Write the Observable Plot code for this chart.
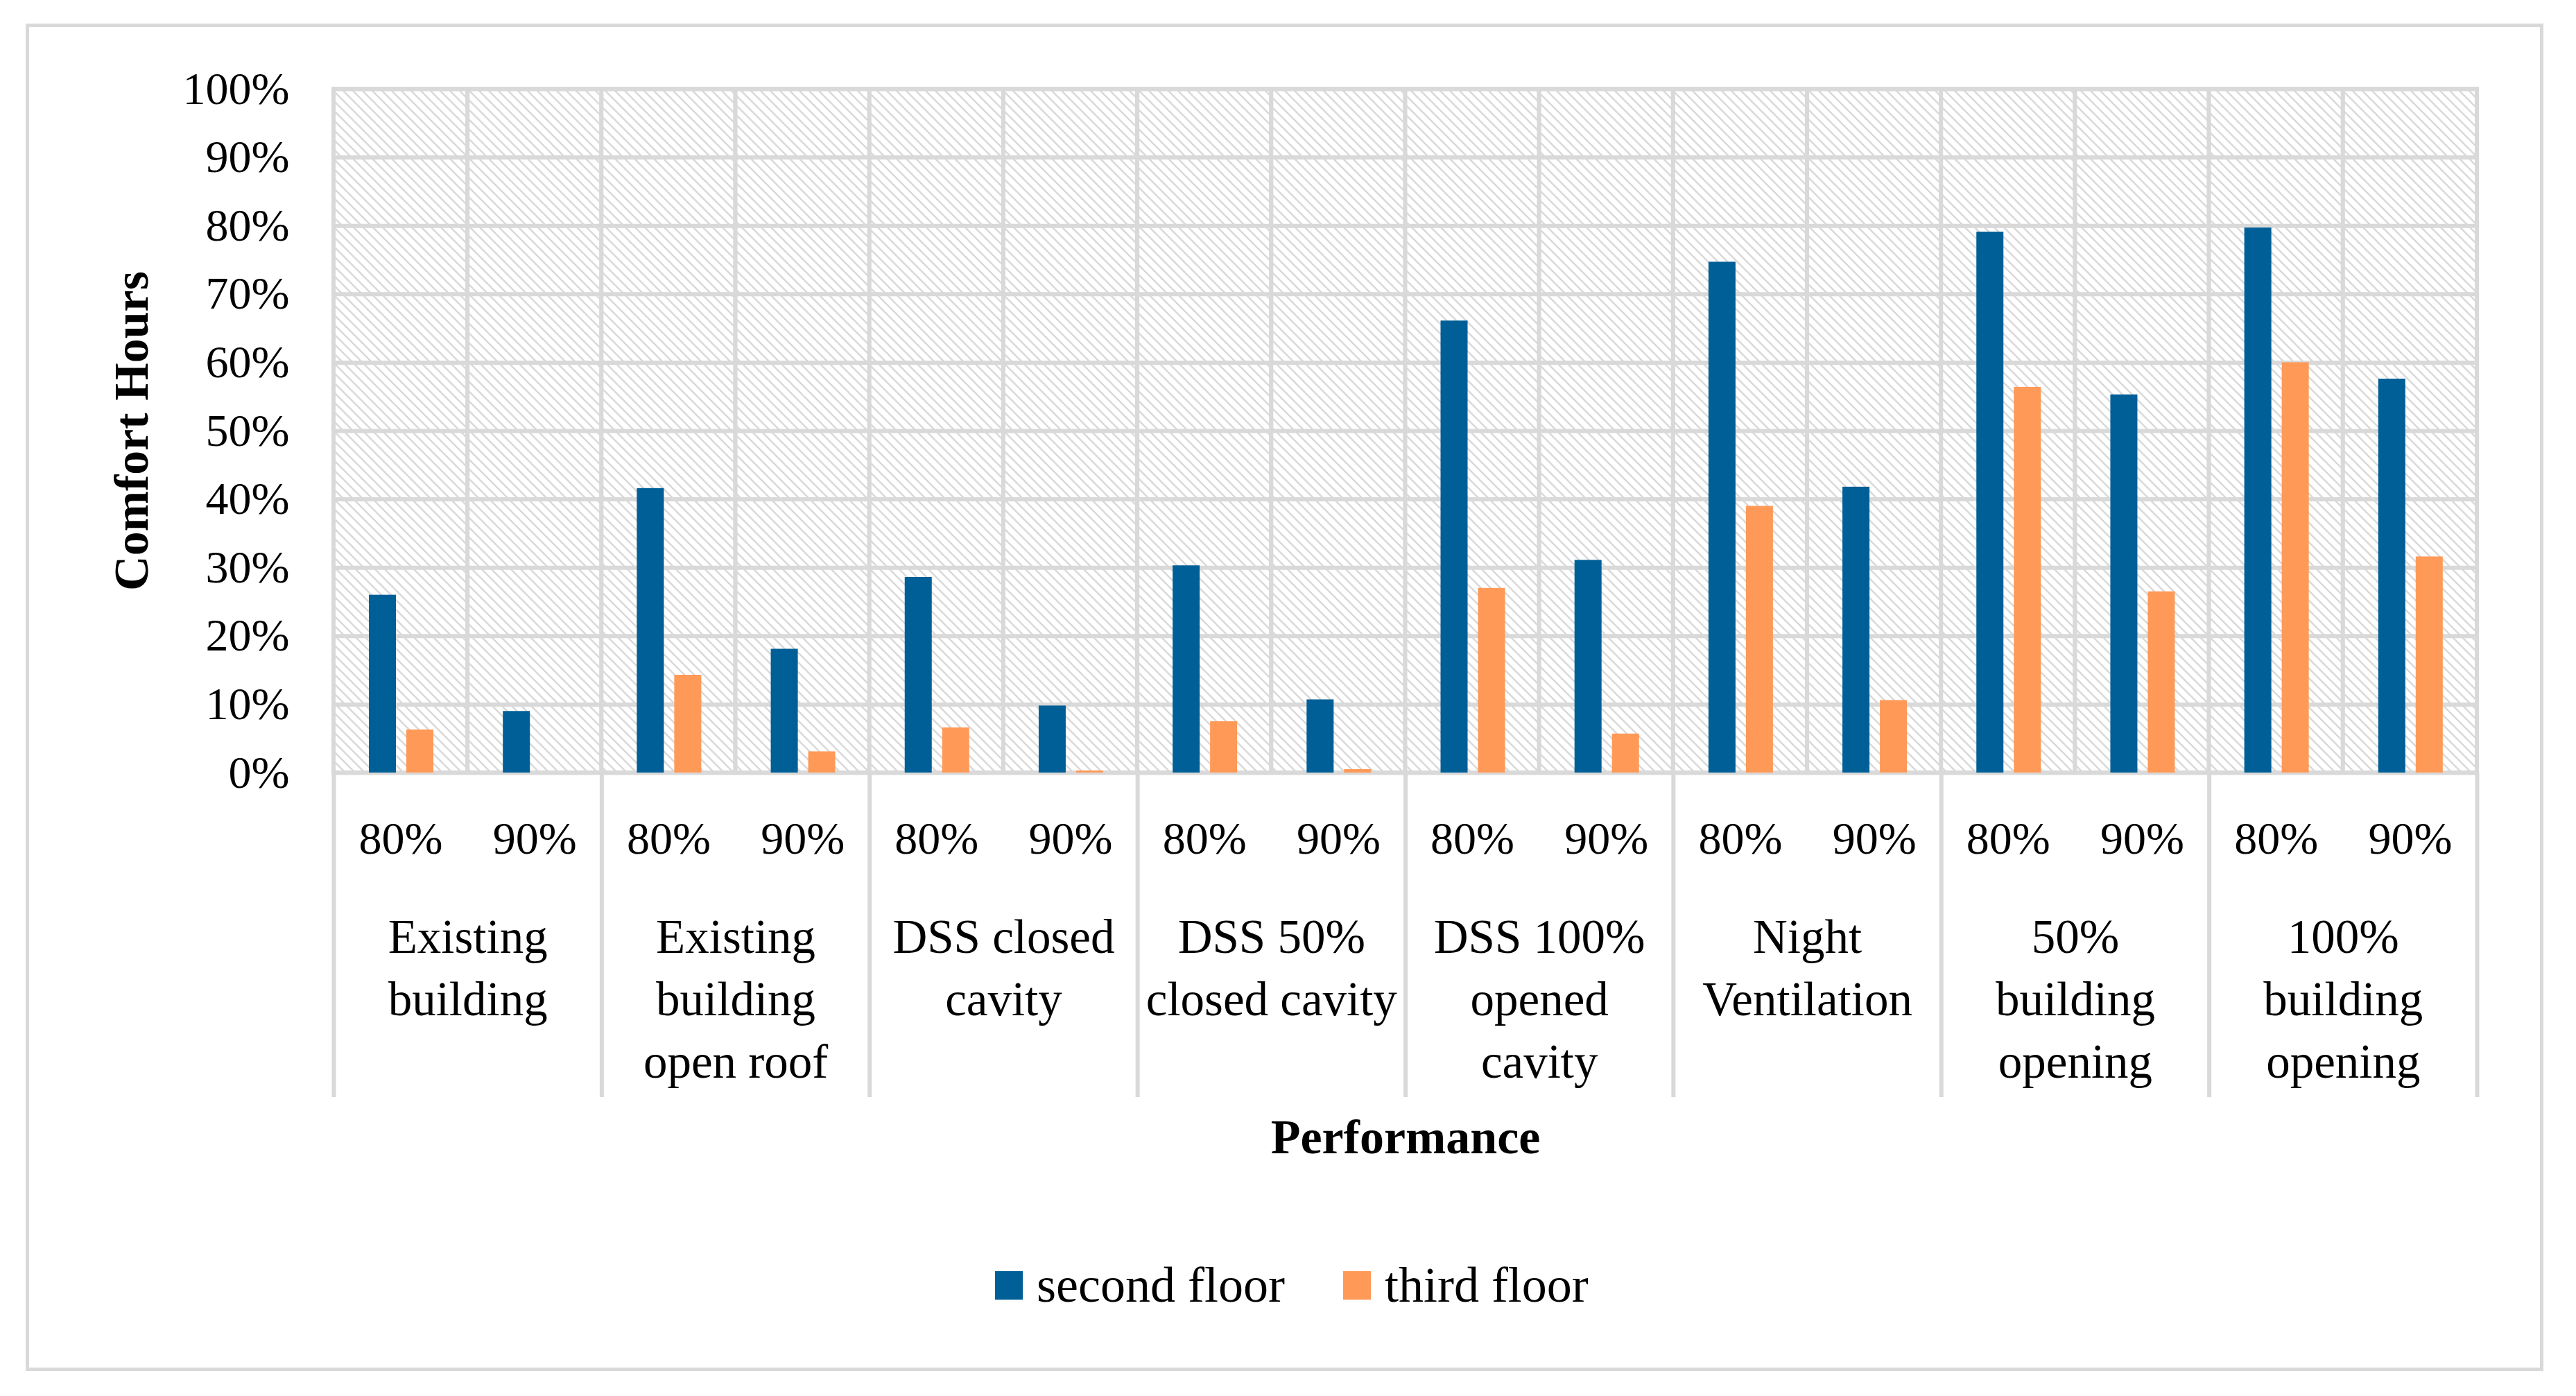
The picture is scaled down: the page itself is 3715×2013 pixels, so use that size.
<!DOCTYPE html>
<html><head><meta charset="utf-8">
<script src="https://cdn.jsdelivr.net/npm/d3@7"></script>
<script src="https://cdn.jsdelivr.net/npm/@observablehq/plot@0.6"></script>
<style>
html,body{margin:0;padding:0;background:#fff;}
#wrap{position:relative;width:3715px;height:2013px;overflow:hidden;font-family:"Liberation Serif",serif;color:#000;}
#frame{position:absolute;left:37px;top:34px;width:3631px;height:1943px;border:5px solid #d9d9d9;box-sizing:border-box;}
#chart{position:absolute;left:0;top:0;}
#legend{position:absolute;left:1435px;top:1812px;display:flex;align-items:center;font-size:72px;line-height:1.15;}
.item{display:flex;align-items:center;margin-right:84px;}
.sw{width:40px;height:41px;margin-right:20px;}
</style></head><body>
<div id="wrap"><div id="frame"></div><div id="chart"></div><div id="legend"></div></div>
<script>
const categories = [
  "Existing\nbuilding",
  "Existing\nbuilding\nopen roof",
  "DSS closed\ncavity",
  "DSS 50%\nclosed cavity",
  "DSS 100%\nopened\ncavity",
  "Night\nVentilation",
  "50%\nbuilding\nopening",
  "100%\nbuilding\nopening"
];
const levels = ["80%", "90%"];
const series = ["second floor", "third floor"];
const secondFloor = [26.0, 9.0, 41.6, 18.1, 28.6, 9.8, 30.3, 10.7, 66.1, 31.1, 74.7, 41.8, 79.1, 55.3, 79.7, 57.6];
const thirdFloor  = [6.3, 0.0, 14.3, 3.1, 6.6, 0.3, 7.5, 0.5, 27.0, 5.7, 39.0, 10.6, 56.4, 26.5, 60.0, 31.6];
const yTicks = [0, 0.1, 0.2, 0.3, 0.4, 0.5, 0.6, 0.7, 0.8, 0.9, 1];
const colors = ["#005f97", "#ff9957"];
const xTitle = "Performance";
const yTitle = "Comfort Hours";

const keys = categories.flatMap(c => levels.map(l => c + "|" + l));
const rows = keys.map((k, i) => ({key: k, second: secondFloor[i] / 100, third: thirdFloor[i] / 100}));

const W = 3715, H = 2013, mL = 481, mR = 143, mT = 128, mB = 899;
const bw = (W - mL - mR) / keys.length;
const grey = "#d9d9d9";

const plot = Plot.plot({
  width: W, height: H,
  marginLeft: mL, marginRight: mR, marginTop: mT, marginBottom: mB,
  style: {fontFamily: '"Liberation Serif", serif', fontSize: "66px", background: "transparent", color: "#000", overflow: "visible"},
  x: {domain: keys, padding: 0, round: false, axis: null},
  y: {domain: [0, 1], axis: null},
  marks: [
    Plot.cell(keys, {x: d => d, fill: "url(#hatch)", stroke: grey, strokeWidth: 6}),
    Plot.gridY(yTicks, {stroke: grey, strokeOpacity: 1, strokeWidth: 6}),
    Plot.barY(rows, {x: "key", y: "second", fill: colors[0], insetLeft: 51, insetRight: bw - 90}),
    Plot.barY(rows, {x: "key", y: "third", fill: colors[1], insetLeft: 105, insetRight: bw - 144}),
    Plot.axisY(yTicks, {tickSize: 0, tickPadding: 64, tickFormat: d3.format(".0%"), fontSize: 66, label: null}),
    Plot.axisX({tickSize: 0, tickPadding: 70, tickFormat: d => d.split("|")[1], fontSize: 66, label: null}),
    Plot.ruleX(categories, {x: c => c + "|80%", dx: -bw / 2, stroke: grey, strokeWidth: 6, insetTop: H - mT - mB, insetBottom: -468}),
    Plot.ruleX([keys[keys.length - 1]], {x: d => d, dx: bw / 2, stroke: grey, strokeWidth: 6, insetTop: H - mT - mB, insetBottom: -468}),
    Plot.text(categories, {x: c => c + "|80%", dx: bw / 2, text: d => d, frameAnchor: "bottom", lineAnchor: "top", dy: 196, fontSize: 69, lineHeight: 1.3}),
    Plot.text([xTitle], {text: d => d, frameAnchor: "bottom", lineAnchor: "top", dy: 499, fontWeight: "bold", fontSize: 70}),
    Plot.text([yTitle], {text: d => d, frameAnchor: "left", textAnchor: "middle", lineAnchor: "middle", rotate: -90, dx: -291, fontWeight: "bold", fontSize: 70})
  ]
});

d3.select(plot).insert("defs", ":first-child").html(
  `<pattern id="hatch" patternUnits="userSpaceOnUse" width="14" height="14">
     <rect width="14" height="14" fill="#ffffff"/>
     <path d="M-2,-2L16,16M12,-2L16,2M-2,12L2,16" stroke="${grey}" stroke-width="2.5" fill="none"/>
   </pattern>`
);
document.getElementById("chart").appendChild(plot);

const legend = d3.select("#legend");
series.forEach((s, i) => {
  const it = legend.append("div").attr("class", "item");
  it.append("div").attr("class", "sw").style("background", colors[i]);
  it.append("span").text(s);
});
</script>
</body></html>
